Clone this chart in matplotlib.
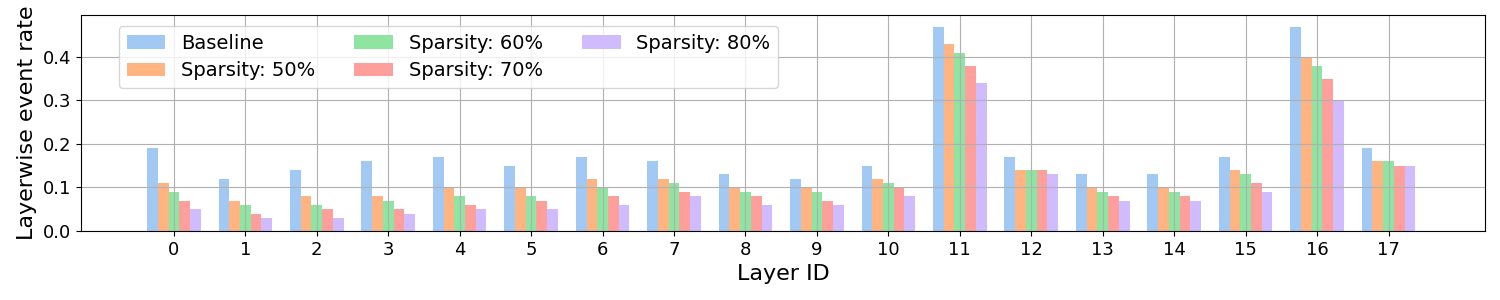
import numpy as np
import matplotlib
matplotlib.use("Agg")
import matplotlib.pyplot as plt
import seaborn as sns

layers = list(range(18))
series_names = ['Baseline', 'Sparsity: 50%', 'Sparsity: 60%', 'Sparsity: 70%', 'Sparsity: 80%']

baseline = [0.19, 0.12, 0.14, 0.16, 0.17, 0.15, 0.17, 0.16, 0.13, 0.12, 0.15, 0.47, 0.17, 0.13, 0.13, 0.17, 0.47, 0.19]
sp50 = [0.11, 0.07, 0.08, 0.08, 0.10, 0.10, 0.12, 0.12, 0.10, 0.10, 0.12, 0.43, 0.14, 0.10, 0.10, 0.14, 0.40, 0.16]
sp60 = [0.09, 0.06, 0.06, 0.07, 0.08, 0.08, 0.10, 0.11, 0.09, 0.09, 0.11, 0.41, 0.14, 0.09, 0.09, 0.13, 0.38, 0.16]
sp70 = [0.07, 0.04, 0.05, 0.05, 0.06, 0.07, 0.08, 0.09, 0.08, 0.07, 0.10, 0.38, 0.14, 0.08, 0.08, 0.11, 0.35, 0.15]
sp80 = [0.05, 0.03, 0.03, 0.04, 0.05, 0.05, 0.06, 0.08, 0.06, 0.06, 0.08, 0.34, 0.13, 0.07, 0.07, 0.09, 0.30, 0.15]

all_series = [baseline, sp50, sp60, sp70, sp80]
colors = sns.color_palette('pastel', 5)

fig, ax = plt.subplots(figsize=(15, 3), dpi=100)
x = np.arange(len(layers))
width = 0.15
for i, (name, vals) in enumerate(zip(series_names, all_series)):
    ax.bar(x + (i - 2) * width, vals, width, label=name, color=colors[i])

ax.set_xticks(x)
ax.set_xticklabels([str(l) for l in layers], fontsize=13)
ax.tick_params(axis='y', labelsize=13)
ax.set_xlim(-1.3, 18.35)
ax.set_ylim(0, 0.4965)
ax.set_xlabel('Layer ID', fontsize=16)
ax.set_ylabel('Layerwise event rate', fontsize=16)
ax.grid(True)
ax.legend(ncol=3, fontsize=14, loc='upper left', bbox_to_anchor=(0.02, 0.995),
          labelspacing=0.45, handlelength=2.0)

plt.subplots_adjust(left=0.054, right=0.99, top=0.95, bottom=0.23)
plt.savefig('out.png')
